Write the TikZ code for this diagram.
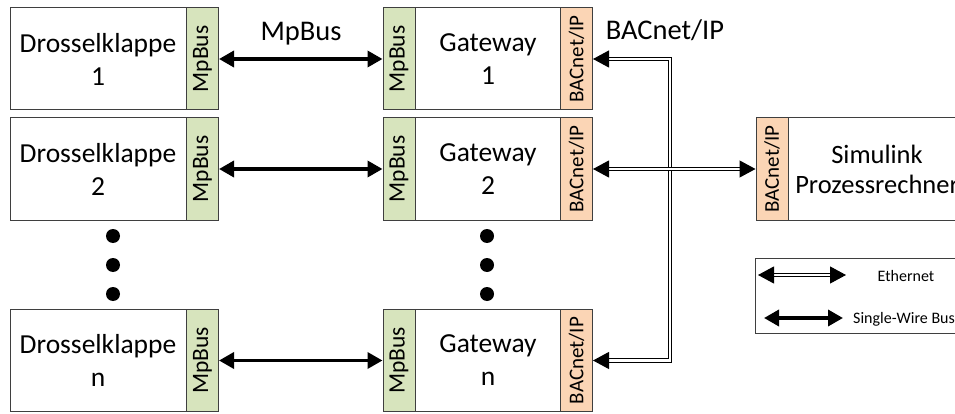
\documentclass[tikz,border=0pt]{standalone}
\usepackage{fontspec}
\setmainfont{Carlito}
\usetikzlibrary{arrows.meta}
\definecolor{boxgreen}{HTML}{D7E4BD}
\definecolor{boxorange}{HTML}{FBD5B5}
\definecolor{edgegray}{HTML}{3F3F3F}
\begin{document}
\begin{tikzpicture}[x=1pt,y=-1pt,
  mainbox/.style={draw=edgegray, line width=1pt, fill=white, minimum height=102pt,
    align=center, inner sep=0pt, font=\fontsize{27.5}{33}\selectfont},
  stripbox/.style={draw=edgegray, line width=1pt, rotate=90, minimum width=102pt,
    minimum height=32pt, inner sep=0pt, font=\fontsize{21}{24}\selectfont},
  greenstrip/.style={stripbox, fill=boxgreen, font=\fontsize{23.5}{26}\selectfont},
  orangestrip/.style={stripbox, fill=boxorange},
  toplabel/.style={font=\fontsize{28.5}{30}\selectfont, inner sep=0pt, anchor=base},
  legendtext/.style={font=\fontsize{16}{18}\selectfont, inner sep=0pt, anchor=base},
  dotmark/.style={circle, fill=black, minimum size=14pt, inner sep=0pt},
  mpbus/.style={line width=3.5pt, {Triangle[length=15pt,width=16pt]}-{Triangle[length=15pt,width=16pt]}},
  eth/.style={double=white, draw=black, line width=1.1pt, double distance=2.2pt, line join=miter,
    {Triangle[length=16pt,width=17pt]}-{Triangle[length=16pt,width=17pt]}},
]
\useasboundingbox (0,0) rectangle (955,414);
\clip (0,0) rectangle (955,414);

% Drosselklappen
\node[mainbox, minimum width=176pt] (d1) at (98,59) {Drosselklappe\\1};
\node[greenstrip] (d1s) at (202.5,59) {MpBus};
\node[mainbox, minimum width=176pt] (d2) at (98,169) {Drosselklappe\\2};
\node[greenstrip] (d2s) at (202.5,169) {MpBus};
\node[mainbox, minimum width=176pt] (dn) at (98,360.5) {Drosselklappe\\n};
\node[greenstrip] (dns) at (202.5,360.5) {MpBus};

% Gateways
\node[greenstrip] (g1s) at (399,59) {MpBus};
\node[mainbox, minimum width=146pt] (g1) at (488,59) {Gateway\\1};
\node[orangestrip] (g1b) at (576.5,59) {BACnet/IP};
\node[greenstrip] (g2s) at (399,169) {MpBus};
\node[mainbox, minimum width=146pt] (g2) at (488,169) {Gateway\\2};
\node[orangestrip] (g2b) at (576.5,169) {BACnet/IP};
\node[greenstrip] (gns) at (399,360.5) {MpBus};
\node[mainbox, minimum width=146pt] (gn) at (488,360.5) {Gateway\\n};
\node[orangestrip] (gnb) at (576.5,360.5) {BACnet/IP};

% Simulink
\node[orangestrip] (simb) at (772,169) {BACnet/IP};
\node[mainbox, minimum width=178pt, font=\fontsize{26.5}{30}\selectfont] (sim) at (877,169) {Simulink\\Prozessrechner};

% dots
\node[dotmark] (dd1) at (113,236) {};
\node[dotmark] (dd2) at (113,265) {};
\node[dotmark] (dd3) at (113,294) {};
\node[dotmark] (gd1) at (487,236) {};
\node[dotmark] (gd2) at (487,265) {};
\node[dotmark] (gd3) at (487,294) {};

% top labels
\node[toplabel] (lmp) at (301,41) {MpBus};
\node[toplabel] (lbac) at (665,40) {BACnet/IP};

% MpBus connections
\draw[mpbus] (d1s.south) -- (g1s.north);
\draw[mpbus] (d2s.south) -- (g2s.north);
\draw[mpbus] (dns.south) -- (gns.north);

% Ethernet
\coordinate (vx) at (670,0);
\draw[eth] (g1b.south) -- (g1b.south -| vx) -- (gnb.south -| vx) -- (gnb.south);
\draw[eth] (g2b.south) -- (simb.north);

% legend
\node[draw=edgegray, line width=1pt, fill=white, minimum width=220pt, minimum height=75pt,
  anchor=north west, inner sep=0pt] (leg) at (755,258) {};
\coordinate (le1) at (758,275);
\coordinate (le2) at (846,275);
\coordinate (ls1) at (764,318);
\coordinate (ls2) at (843,318);
\draw[eth] (le1) -- (le2);
\draw[mpbus] (ls1) -- (ls2);
\node[legendtext] (lt1) at (906,281) {Ethernet};
\node[legendtext, anchor=base west] (lt2) at (853,323) {Single-Wire Bus};
\end{tikzpicture}
\end{document}
